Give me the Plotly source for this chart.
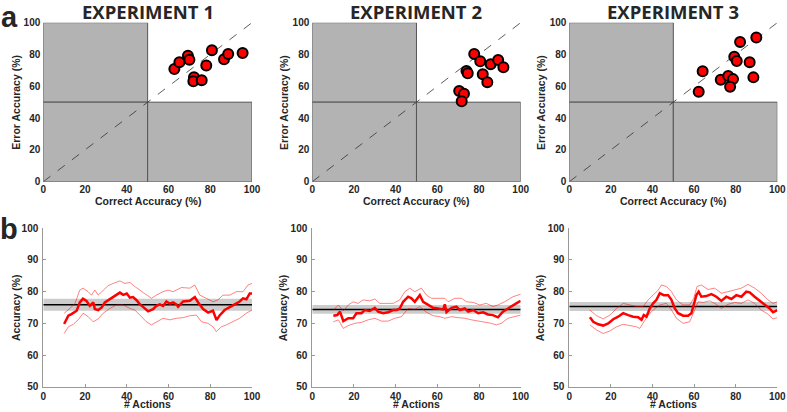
import plotly.graph_objects as go

# ---- panel a: per-subject correct vs error accuracy (%) ----
exp1_correct = [62.8, 65.2, 69.3, 70.0, 80.8, 78.1, 72.2, 71.9, 75.9, 86.6, 88.6, 95.5]
exp1_error = [70.9, 75.1, 79.2, 76.7, 82.6, 73.0, 65.7, 63.1, 63.8, 77.0, 80.3, 80.9]
exp2_correct = [77.7, 80.6, 85.6, 89.2, 91.7, 74.0, 74.6, 81.8, 84.0, 70.5, 72.8, 71.7]
exp2_error = [80.3, 75.7, 73.8, 76.5, 71.9, 69.6, 68.2, 67.5, 62.5, 57.0, 55.3, 50.6]
exp3_correct = [82.1, 89.9, 79.3, 80.5, 86.7, 64.1, 72.8, 76.4, 78.7, 88.5, 77.3, 62.2]
exp3_error = [87.9, 90.6, 78.6, 75.9, 75.1, 69.4, 64.1, 66.4, 64.5, 65.6, 59.7, 56.6]

# ---- panel b: running accuracy over # actions ----
exp1_mean_x = [10, 12, 13.5, 16, 17.5, 19, 20.7, 22.3, 24, 24.7, 26.3, 28, 29.5, 32, 34.3, 36.7,
               38.3, 40, 41.5, 43, 44.7, 46.3, 47.8, 50.2, 52.6, 54.2, 55.8, 57.4, 59, 60.6, 62.2,
               63.8, 64.6, 67, 70.2, 72.6, 74.2, 76.6, 79, 81.3, 83, 84.5, 86.9, 89.3, 91.7, 94.1,
               95.7, 97.3, 98.9, 100]
exp1_mean_y = [69.8, 72.4, 72.9, 74.0, 76.6, 77.8, 77.1, 75.5, 76.6, 74.5, 74.2, 75.0, 76.6, 77.6,
               78.6, 79.7, 79.0, 79.4, 78.1, 78.3, 77.3, 76.0, 75.2, 73.8, 74.5, 75.5, 76.0, 75.5,
               76.9, 76.2, 76.6, 76.0, 75.2, 76.9, 77.1, 78.3, 76.6, 74.5, 73.4, 74.0, 71.0, 72.5,
               74.2, 75.0, 76.0, 76.9, 77.9, 77.6, 79.4, 79.4]
exp1_upper_x = [10, 12.8, 15.2, 17.5, 19.1, 21.5, 23.1, 24.7, 26.3, 28.7, 31.1, 33.5, 36.7, 39.1,
                41.5, 43.9, 46.3, 49.4, 51.8, 54.2, 57.4, 59.8, 62.2, 66.2, 70.2, 72.6, 75, 78.1,
                81.3, 83.7, 86.1, 89.3, 92.5, 95.7, 98.1, 100]
exp1_upper_y = [73.2, 74.7, 76.3, 80.5, 81.1, 80.0, 78.9, 80.5, 78.9, 80.5, 81.9, 82.6, 83.4, 82.6,
                82.9, 81.6, 80.5, 78.9, 77.9, 78.9, 80.0, 80.5, 80.0, 81.3, 81.1, 82.1, 78.9, 77.9,
                76.8, 77.4, 78.9, 78.9, 80.0, 80.0, 82.1, 82.6]
exp1_lower_x = [10, 12, 14.4, 16.7, 19.1, 21.5, 23.9, 26.3, 28.7, 31.9, 35.1, 38.3, 41.5, 43.9,
                46.3, 49.4, 51.8, 54.2, 57.4, 60.6, 63.8, 67, 70.2, 73.4, 75.8, 78.9, 81.3, 82.9,
                85.3, 87.7, 90.9, 94.1, 97.3, 100]
exp1_lower_y = [66.8, 68.9, 69.7, 71.1, 73.2, 72.1, 70.5, 71.4, 73.2, 74.7, 75.8, 75.8, 74.7, 74.2,
                72.6, 70.5, 69.5, 70.5, 71.6, 71.1, 71.6, 71.8, 72.4, 72.6, 70.5, 70.0, 68.9, 67.4,
                68.9, 69.5, 70.5, 71.6, 73.2, 74.2]

exp2_mean_x = [10.1, 12, 13.3, 14.9, 17.3, 19.6, 21.2, 23.6, 25.2, 27.6, 30, 31.6, 34, 36.4, 38.8,
               40.4, 42, 43.6, 46, 47.6, 49.2, 51.6, 53.2, 55.6, 58, 60.4, 62.8, 63.6, 64.4, 66.8,
               69.2, 70.8, 73.2, 74.8, 77.2, 79.6, 82, 84.3, 86.7, 89.1, 91.5, 93.9, 96.3, 97.9, 100]
exp2_mean_y = [72.4, 72.6, 73.7, 70.7, 71.6, 71.6, 73.2, 73.2, 74.2, 73.9, 74.9, 73.7, 73.2, 73.5,
               74.2, 74.2, 74.7, 76.8, 78.4, 77.9, 76.8, 78.9, 76.8, 75.8, 74.9, 74.7, 74.4, 76.0,
               73.5, 74.9, 75.3, 74.2, 74.7, 73.7, 74.2, 73.2, 73.5, 72.8, 72.6, 71.9, 73.7, 74.7,
               75.8, 76.3, 77.1]
exp2_upper_x = [10.1, 12.5, 14.9, 17.3, 19.6, 22, 24.4, 27.6, 30, 32.4, 35.6, 38.8, 42, 44.4, 46.8,
                49.2, 52.4, 54.8, 57.2, 60.4, 63.6, 65.2, 68.4, 71.6, 74, 77.2, 80.4, 83.5, 86.7,
                89.1, 92.3, 96.3, 100]
exp2_upper_y = [74.2, 75.8, 73.9, 75.8, 76.8, 76.3, 77.4, 77.1, 77.7, 76.3, 76.3, 76.3, 77.4, 80.0,
                81.1, 80.0, 81.1, 78.9, 77.9, 77.9, 77.9, 76.8, 77.9, 77.9, 76.8, 76.6, 75.8, 76.3,
                75.3, 75.8, 76.8, 78.4, 79.2]
exp2_lower_x = [10.1, 12.5, 14.9, 17.3, 20.4, 23.6, 26.8, 30, 33.2, 36.4, 39.6, 42.8, 46, 49.2,
                51.6, 54.8, 58, 61.2, 63.6, 66.8, 70, 73.2, 76.4, 79.6, 82.8, 86, 88.3, 90.7, 93.9,
                97.1, 100]
exp2_lower_y = [70.5, 71.1, 68.4, 69.3, 70.0, 70.3, 71.1, 71.6, 70.7, 70.7, 71.6, 72.1, 74.7, 74.4,
                75.3, 73.5, 72.4, 72.1, 71.6, 72.1, 71.8, 71.6, 71.1, 70.7, 70.5, 70.0, 69.5, 70.0,
                71.6, 72.1, 72.6]

exp3_mean_x = [9.9, 11.5, 13.9, 16.3, 18.7, 21.1, 23.5, 25.9, 28.3, 30.7, 33.1, 34.7, 35.8, 37.1,
               38.7, 40.3, 41.9, 43.5, 45.4, 47.5, 49.1, 50.7, 52.3, 54.7, 57.1, 58.7, 59.8, 61.1,
               62.2, 63.5, 65.9, 68.3, 70.7, 73.1, 75.5, 77.9, 80.3, 82.7, 85.1, 86.7, 89.1, 91.5,
               93.9, 96.3, 97.9, 100]
exp3_mean_y = [71.9, 70.5, 69.7, 69.3, 70.0, 71.3, 72.1, 73.2, 72.6, 72.1, 71.9, 71.1, 72.6, 72.1,
               74.7, 76.3, 77.4, 79.5, 78.9, 78.9, 77.4, 74.7, 73.2, 72.4, 72.4, 73.2, 75.8, 78.9,
               80.0, 78.4, 78.6, 79.2, 78.4, 77.1, 78.4, 77.7, 78.9, 78.4, 80.0, 79.8, 78.4, 77.1,
               75.8, 74.7, 73.5, 74.2]
exp3_upper_x = [9.9, 13.1, 16.3, 19.5, 22.7, 25.9, 29.1, 32.3, 35.5, 37.9, 40.3, 42.7, 44.3, 46.7,
                49.1, 51.5, 54.7, 57.9, 59.8, 61.4, 63.5, 66.7, 69.9, 73.1, 76.3, 79.5, 82.7, 85.9,
                89.1, 92.3, 95.5, 97.9, 100]
exp3_upper_y = [74.2, 72.4, 71.4, 72.6, 74.7, 76.3, 75.8, 75.3, 75.3, 77.4, 78.9, 80.5, 82.1, 81.6,
                80.0, 77.4, 75.8, 75.8, 77.9, 81.6, 82.1, 80.7, 81.1, 79.5, 80.0, 80.5, 81.1, 82.3,
                81.1, 79.5, 77.4, 76.3, 76.8]
exp3_lower_x = [9.9, 13.1, 16.3, 19.5, 22.7, 25.9, 29.1, 32.3, 33.9, 35.5, 37.9, 40.3, 43.5, 46.7,
                49.1, 51.5, 54.7, 57.9, 59.8, 61.9, 64.3, 67.5, 70.7, 73.1, 76.3, 79.5, 82.7, 85.9,
                89.1, 92.3, 95.5, 97.9, 100]
exp3_lower_y = [69.5, 67.9, 66.8, 67.6, 68.9, 69.7, 69.3, 68.9, 68.4, 70.0, 72.6, 74.2, 75.8, 76.3,
                74.2, 71.6, 70.0, 70.5, 73.7, 76.8, 76.6, 77.1, 76.0, 74.7, 76.0, 76.6, 76.3, 77.4,
                76.3, 74.2, 72.9, 71.4, 71.8]

# overall mean accuracy and its error band, per experiment
overall_mean = [75.9, 74.4, 75.3]
overall_err = [1.9, 1.4, 1.4]

titles = ["EXPERIMENT 1", "EXPERIMENT 2", "EXPERIMENT 3"]
scatter_data = [(exp1_correct, exp1_error), (exp2_correct, exp2_error), (exp3_correct, exp3_error)]
running_data = [
    (exp1_mean_x, exp1_mean_y, exp1_upper_x, exp1_upper_y, exp1_lower_x, exp1_lower_y),
    (exp2_mean_x, exp2_mean_y, exp2_upper_x, exp2_upper_y, exp2_lower_x, exp2_lower_y),
    (exp3_mean_x, exp3_mean_y, exp3_upper_x, exp3_upper_y, exp3_lower_x, exp3_lower_y),
]

col_domains = [[0.055, 0.3202], [0.3968, 0.6616], [0.7234, 0.9877]]
top_domain = [0.559, 0.945]
bot_domain = [0.0614, 0.4459]
ytitle_pos = [-0.128, -0.137, -0.137]

TEXT = "#262626"
tick_font = dict(family="Liberation Sans, Arial", size=10, color=TEXT, weight="bold")
label_font = dict(family="Liberation Sans, Arial", size=10.5, color=TEXT, weight="bold")


def axis_ids(n):
    """trace refs and layout keys for axis number n"""
    s = "" if n == 1 else str(n)
    return "x" + s, "y" + s, "xaxis" + s, "yaxis" + s


fig = go.Figure()
layout = {}
shapes = []
annotations = []

for i in range(3):
    # ---------- top row: scatter ----------
    xa, ya, xkey, ykey = axis_ids(i + 1)
    for x0, y0, x1, y1 in [(0, 50, 50, 100), (0, 0, 50, 50), (50, 0, 100, 50)]:
        shapes.append(dict(type="rect", xref=xa, yref=ya, x0=x0, y0=y0, x1=x1, y1=y1,
                           fillcolor="#b3b3b3", line=dict(color="#555555", width=1), layer="below"))
    fig.add_trace(go.Scatter(x=[0, 100], y=[0, 100], mode="lines", xaxis=xa, yaxis=ya,
                             line=dict(color="#333333", width=0.8, dash="dash"),
                             showlegend=False, hoverinfo="skip"))
    cx, cy = scatter_data[i]
    fig.add_trace(go.Scatter(x=cx, y=cy, mode="markers", xaxis=xa, yaxis=ya, cliponaxis=False,
                             marker=dict(color="#ff0000", size=10, line=dict(color="black", width=2)),
                             showlegend=False))
    axis_common = dict(range=[0, 100], tickvals=[0, 20, 40, 60, 80, 100], showgrid=False,
                       zeroline=False, showline=False, ticks="", tickfont=tick_font,
                       automargin=False)
    layout[xkey] = dict(domain=col_domains[i], anchor=ya, **axis_common)
    layout[ykey] = dict(domain=top_domain, anchor=xa, ticklabelstandoff=2, **axis_common)
    annotations.append(dict(text=titles[i], xref=f"{xa} domain", yref="paper", x=0.5, y=1 - 12 / 412,
                            showarrow=False, xanchor="center", yanchor="middle",
                            font=dict(family="Open Sans", size=18.5, color=TEXT, weight="bold")))
    annotations.append(dict(text="Correct Accuracy (%)", xref=f"{xa} domain", yref=f"{ya} domain",
                            x=0.5, y=-0.12, showarrow=False, yanchor="middle", font=label_font))
    annotations.append(dict(text="Error Accuracy (%)", xref=f"{xa} domain", yref=f"{ya} domain",
                            x=ytitle_pos[i], y=0.5, showarrow=False, textangle=-90,
                            xanchor="center", font=label_font))

    # ---------- bottom row: running accuracy ----------
    xa, ya, xkey, ykey = axis_ids(i + 4)
    m, e = overall_mean[i], overall_err[i]
    fig.add_trace(go.Scatter(x=[0, 100, 100, 0], y=[m - e, m - e, m + e, m + e], fill="toself",
                             mode="none", fillcolor="#cccccc", xaxis=xa, yaxis=ya,
                             showlegend=False, hoverinfo="skip"))
    fig.add_trace(go.Scatter(x=[0, 100], y=[m, m], mode="lines", xaxis=xa, yaxis=ya,
                             line=dict(color="black", width=1.5), showlegend=False))
    mx, my, ux, uy, lx, ly = running_data[i]
    for bx, by in [(ux, uy), (lx, ly)]:
        fig.add_trace(go.Scatter(x=bx, y=by, mode="lines", xaxis=xa, yaxis=ya,
                                 line=dict(color="rgba(255,0,0,0.55)", width=0.9), showlegend=False))
    fig.add_trace(go.Scatter(x=mx, y=my, mode="lines", xaxis=xa, yaxis=ya,
                             line=dict(color="#ff0000", width=2.5), showlegend=False))
    bot_common = dict(showgrid=False, zeroline=False, showline=True, linecolor="#999999",
                      linewidth=1, ticks="inside", ticklen=3, tickcolor="#999999",
                      tickfont=tick_font, automargin=False)
    layout[xkey] = dict(domain=col_domains[i], anchor=ya, range=[0, 100],
                        tickvals=[0, 20, 40, 60, 80, 100], ticklabelstandoff=0, **bot_common)
    layout[ykey] = dict(domain=bot_domain, anchor=xa, range=[50, 100],
                        tickvals=[50, 60, 70, 80, 90, 100], ticklabelstandoff=2, **bot_common)
    # bottom-anchored so the label box stays inside the page
    annotations.append(dict(text="# Actions", xref=f"{xa} domain", yref=f"{ya} domain",
                            x=0.5, y=-0.156, showarrow=False, yanchor="bottom", borderpad=0,
                            font=label_font))
    annotations.append(dict(text="Accuracy (%)", xref=f"{xa} domain", yref=f"{ya} domain",
                            x=ytitle_pos[i], y=0.5, showarrow=False, textangle=-90,
                            xanchor="center", font=label_font))

# panel letters
for letter, ypix in [("a", 17), ("b", 229)]:
    annotations.append(dict(text=letter, xref="paper", yref="paper", x=9 / 787, y=1 - ypix / 412,
                            showarrow=False, xanchor="center", yanchor="middle",
                            font=dict(family="Liberation Sans, Arial", size=29, color=TEXT, weight="bold")))

fig.update_layout(width=787, height=412, margin=dict(l=0, r=0, t=0, b=0, autoexpand=False),
                  paper_bgcolor="white", plot_bgcolor="white",
                  shapes=shapes, annotations=annotations, **layout)

# the page body has a default 8px margin; drop it so the figure sits at the window corner
fig.write_html("out.html", config={"displayModeBar": False},
               post_script="document.body.style.margin='0';")
